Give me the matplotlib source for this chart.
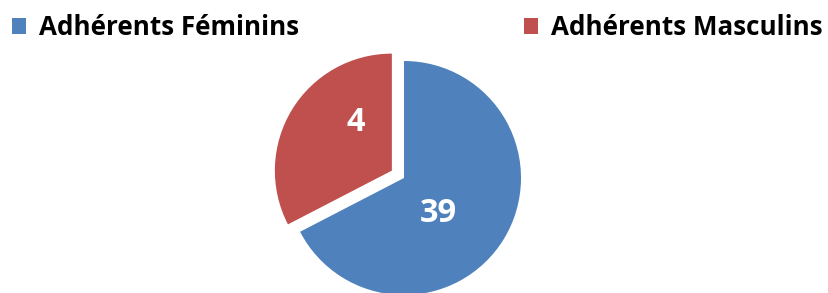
import matplotlib
matplotlib.use("Agg")
import matplotlib.pyplot as plt

# Data
categories = ["Adhérents Féminins", "Adhérents Masculins"]
slice_shares = [67.4, 32.6]          # angular shares of the drawn slices
value_labels = ["39", "4"]           # labels printed on the slices
colors = ["#4F81BD", "#C0504D"]

W, H = 829, 293
fig = plt.figure(figsize=(W / 100, H / 100), dpi=100)
ax = fig.add_axes([0, 0, 1, 1])

wedges, _ = ax.pie(slice_shares, colors=colors, startangle=90, counterclock=False,
                   center=(404, H - 178), radius=117, explode=[0, 14.2],
                   wedgeprops=dict(linewidth=0))
ax.set_xlim(0, W)
ax.set_ylim(0, H)
ax.set_aspect("auto")
ax.axis("off")

lab_font = dict(family="Open Sans", weight="bold", color="white", size=23.5,
                ha="center", va="baseline")
ax.text(438, H - 221.7, value_labels[0], **lab_font)
ax.text(355.8, H - 130.7, value_labels[1], **lab_font)

leg = ax.legend(wedges, categories, ncol=2, loc="upper left",
                bbox_to_anchor=(11.7 / W, 1 - 14 / H), bbox_transform=fig.transFigure,
                frameon=False, borderpad=0, borderaxespad=0,
                handlelength=0.54, handleheight=0.54, handletextpad=0.51,
                columnspacing=8.65,
                prop=dict(family="Open Sans", weight="bold", size=18.7))

fig.savefig("out.png", dpi=100)
